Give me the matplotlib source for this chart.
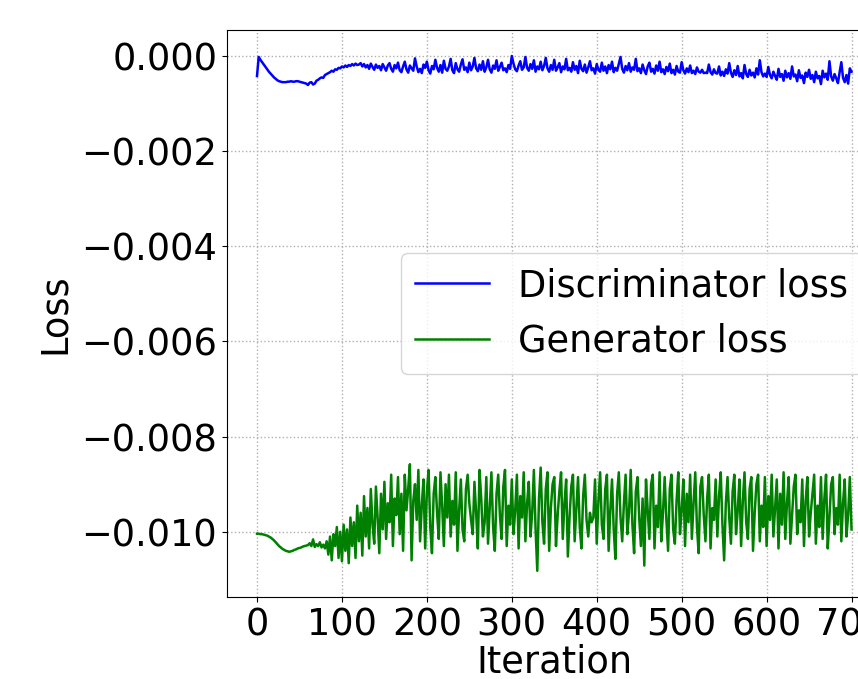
import numpy as np
import matplotlib
matplotlib.use('Agg')
import matplotlib.pyplot as plt

# iterations, one sample every 2 steps
iters = list(range(0, 701, 2))

# losses, in units of 1e-3 (25 values per row = 50 iterations)
d_loss = [
    -0.42,-0.02,-0.08,-0.13,-0.18,-0.23,-0.28,-0.33,-0.37,-0.41,-0.45,-0.48,-0.51,-0.53,-0.54,-0.55,-0.55,-0.55,-0.54,-0.54,-0.53,-0.54,-0.54,-0.53,-0.53,
    -0.54,-0.55,-0.56,-0.57,-0.58,-0.61,-0.56,-0.55,-0.60,-0.58,-0.52,-0.50,-0.47,-0.45,-0.46,-0.40,-0.38,-0.36,-0.34,-0.31,-0.33,-0.28,-0.29,-0.25,-0.26,
    -0.22,-0.24,-0.20,-0.23,-0.19,-0.21,-0.17,-0.20,-0.16,-0.19,-0.18,-0.15,-0.22,-0.17,-0.24,-0.19,-0.27,-0.16,-0.23,-0.29,-0.18,-0.25,-0.21,-0.30,-0.17,
    -0.24,-0.31,-0.20,-0.15,-0.27,-0.33,-0.19,-0.26,-0.14,-0.30,-0.34,-0.22,-0.12,-0.28,-0.35,-0.20,-0.26,-0.31,-0.05,-0.22,-0.34,-0.27,-0.36,-0.18,-0.25,
    -0.12,-0.30,-0.37,-0.21,-0.28,-0.08,-0.25,-0.33,-0.19,-0.35,-0.10,-0.27,-0.31,-0.22,-0.06,-0.30,-0.36,-0.15,-0.28,-0.33,-0.18,-0.07,-0.29,-0.24,-0.34,
    -0.14,-0.30,-0.22,-0.04,-0.26,-0.32,-0.18,-0.29,-0.11,-0.33,-0.24,-0.08,-0.28,-0.35,-0.20,-0.27,-0.09,-0.31,-0.23,-0.14,-0.30,-0.26,-0.34,-0.19,-0.27,
    0.00,-0.16,-0.28,-0.32,-0.20,-0.11,-0.29,-0.24,-0.02,-0.25,-0.31,-0.17,-0.27,-0.09,-0.33,-0.22,-0.28,-0.12,-0.30,-0.21,-0.04,-0.26,-0.33,-0.19,-0.29,
    -0.08,-0.31,-0.24,-0.15,-0.34,-0.22,-0.28,-0.06,-0.30,-0.25,-0.33,-0.13,-0.29,-0.21,-0.36,-0.10,-0.27,-0.32,-0.18,-0.35,-0.24,-0.11,-0.30,-0.26,-0.37,
    -0.17,-0.29,-0.33,-0.14,-0.31,-0.22,-0.36,-0.19,-0.28,-0.12,-0.34,-0.25,-0.31,-0.16,-0.02,-0.27,-0.35,-0.21,-0.30,-0.15,-0.33,-0.24,-0.29,-0.06,-0.32,
    -0.26,-0.36,-0.18,-0.30,-0.38,-0.22,-0.14,-0.33,-0.27,-0.37,-0.20,-0.31,-0.12,-0.34,-0.28,-0.38,-0.23,-0.32,-0.16,-0.36,-0.29,-0.39,-0.21,-0.33,-0.35,
    -0.13,-0.30,-0.37,-0.26,-0.34,-0.20,-0.36,-0.31,-0.38,-0.24,-0.33,-0.35,-0.29,-0.36,-0.35,-0.36,-0.18,-0.34,-0.39,-0.28,-0.36,-0.37,-0.22,-0.41,-0.33,
    -0.42,-0.28,-0.37,-0.15,-0.35,-0.44,-0.30,-0.40,-0.21,-0.43,-0.36,-0.47,-0.19,-0.38,-0.44,-0.29,-0.41,-0.35,-0.45,-0.26,-0.39,-0.09,-0.34,-0.43,-0.37,
    -0.44,-0.23,-0.40,-0.47,-0.33,-0.42,-0.50,-0.27,-0.44,-0.38,-0.52,-0.31,-0.45,-0.36,-0.48,-0.22,-0.43,-0.39,-0.53,-0.30,-0.46,-0.41,-0.57,-0.35,-0.44,
    -0.29,-0.48,-0.40,-0.55,-0.33,-0.47,-0.42,-0.59,-0.31,-0.45,-0.37,-0.50,-0.11,-0.43,-0.52,-0.38,-0.47,-0.57,-0.34,-0.13,-0.46,-0.55,-0.40,-0.58,-0.26,
    -0.33,
]
g_loss = [
    -10.04,-10.04,-10.05,-10.05,-10.06,-10.07,-10.08,-10.10,-10.12,-10.15,-10.18,-10.22,-10.26,-10.30,-10.33,-10.36,-10.38,-10.40,-10.41,-10.42,-10.41,-10.40,-10.38,-10.37,-10.35,
    -10.34,-10.33,-10.31,-10.30,-10.29,-10.28,-10.24,-10.30,-10.16,-10.32,-10.26,-10.30,-10.22,-10.33,-10.27,-10.35,-10.20,-10.48,-10.10,-10.60,-10.05,-10.30,-9.90,-10.55,-10.00,
    -10.62,-9.85,-10.40,-9.95,-10.66,-9.70,-10.30,-9.80,-10.55,-9.45,-10.20,-9.60,-10.50,-9.25,-10.10,-9.50,-10.35,-9.10,-9.85,-10.25,-9.05,-9.70,-10.45,-9.20,-9.95,
    -8.95,-10.15,-9.40,-9.80,-8.80,-10.30,-9.30,-9.65,-8.85,-10.05,-9.20,-10.40,-8.80,-9.55,-9.10,-8.58,-10.60,-9.35,-9.00,-9.75,-8.70,-10.20,-9.45,-8.90,-10.35,
    -9.15,-8.70,-9.90,-10.45,-9.20,-8.85,-9.60,-10.15,-8.75,-9.45,-10.30,-9.00,-9.70,-8.80,-10.10,-9.35,-9.85,-8.75,-10.40,-9.55,-8.90,-9.95,-10.20,-9.10,-8.80,
    -9.40,-9.75,-10.05,-8.95,-9.60,-10.35,-8.70,-9.30,-10.10,-9.80,-8.85,-10.25,-9.50,-8.75,-9.90,-10.40,-9.20,-8.80,-9.65,-10.15,-9.05,-8.70,-10.30,-9.45,-9.85,
    -8.90,-10.05,-9.55,-8.80,-10.35,-9.25,-9.70,-8.75,-10.20,-9.40,-8.95,-10.10,-9.60,-8.70,-9.95,-10.82,-9.30,-8.65,-9.80,-10.25,-9.10,-8.75,-10.40,-9.50,-9.00,
    -8.85,-10.30,-9.65,-9.15,-8.75,-10.15,-9.40,-8.90,-10.52,-9.70,-9.05,-8.80,-10.20,-9.50,-8.85,-9.90,-10.35,-9.25,-8.80,-9.75,-10.10,-9.60,-9.80,-9.70,-8.90,
    -10.25,-9.35,-8.75,-9.85,-10.15,-9.10,-8.80,-10.40,-9.55,-8.90,-9.95,-10.57,-9.20,-8.75,-9.70,-10.20,-9.40,-8.80,-10.05,-9.60,-8.70,-9.85,-10.45,-9.15,-8.85,
    -9.70,-10.30,-9.30,-10.71,-8.90,-9.55,-10.15,-9.00,-8.80,-10.35,-9.45,-9.90,-8.75,-10.20,-9.60,-8.85,-9.75,-10.40,-9.10,-8.80,-9.95,-10.25,-9.35,-8.75,-10.05,
    -9.55,-8.90,-10.30,-9.20,-9.80,-8.80,-10.15,-9.40,-8.75,-9.90,-10.45,-9.05,-8.85,-9.65,-10.20,-9.30,-8.80,-10.35,-9.50,-9.75,-8.90,-10.10,-9.25,-8.75,-9.85,
    -10.60,-9.40,-8.85,-9.70,-10.25,-9.15,-8.80,-10.05,-9.55,-8.90,-10.30,-9.35,-8.75,-9.80,-10.15,-9.10,-8.85,-10.40,-9.60,-9.00,-8.80,-10.20,-9.45,-9.90,-8.85,
    -10.30,-9.25,-9.75,-8.80,-10.10,-9.50,-8.90,-10.35,-9.20,-9.85,-8.75,-10.15,-9.40,-8.85,-10.25,-9.65,-9.05,-8.80,-10.05,-9.55,-9.80,-8.90,-10.30,-9.35,-8.85,
    -10.10,-9.60,-9.20,-8.80,-10.25,-9.45,-9.90,-8.85,-10.15,-9.30,-8.80,-10.35,-9.70,-9.00,-8.85,-10.05,-9.50,-9.85,-8.80,-10.20,-9.40,-8.90,-10.10,-9.65,-8.85,
    -9.95,
]

d = np.array(d_loss) * 1e-3
g = np.array(g_loss) * 1e-3

plt.rcParams['font.size'] = 26.5
fig = plt.figure(figsize=(8.58, 6.79), dpi=100)
# axes run past the right edge, like the original crop
ax = fig.add_axes([0.2646, 0.1208, 0.7628, 0.835])
ax.plot(iters, d, color='blue', lw=1.8, label='Discriminator loss')
ax.plot(iters, g, color='green', lw=1.8, label='Generator loss')
ax.set_xlim(-35.3, 735.3)
ax.set_ylim(-0.01137, 0.000546)
ax.set_xticks(range(0, 701, 100))
ax.set_yticks([0, -0.002, -0.004, -0.006, -0.008, -0.010])
ax.set_yticklabels(['0.000', '\u22120.002', '\u22120.004', '\u22120.006', '\u22120.008', '\u22120.010'])
ax.grid(True, linestyle=':', color='#b0b0b0', lw=1)
ax.set_xlabel('Iteration', labelpad=0)
ax.set_ylabel('Loss', labelpad=6)
ax.legend(loc='center right')
fig.savefig('out.png', dpi=100)
